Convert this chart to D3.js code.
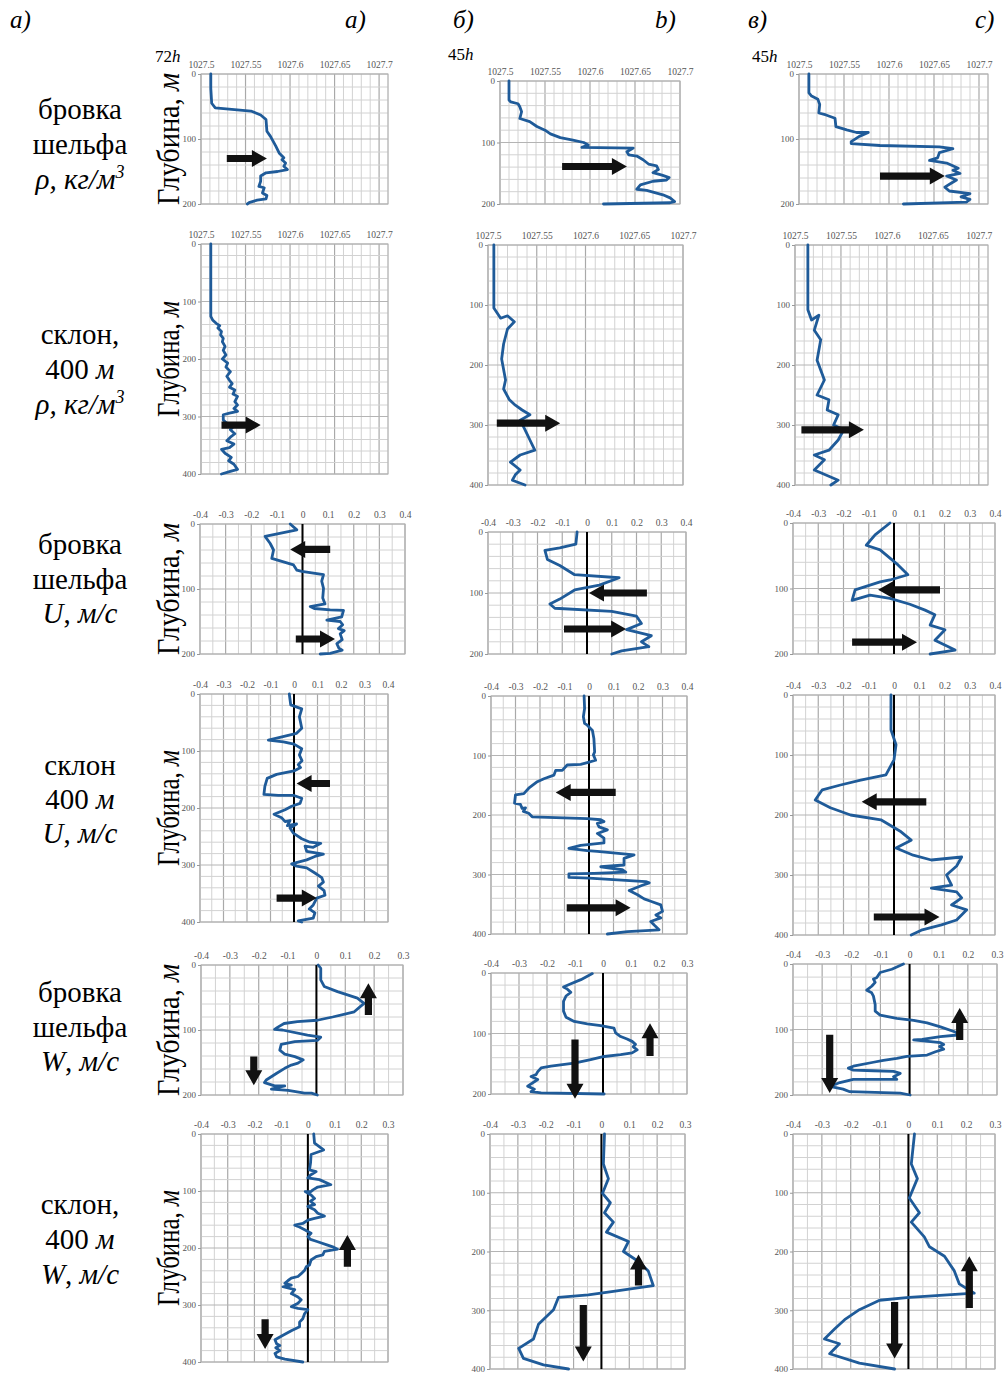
<!DOCTYPE html>
<html>
<head>
<meta charset="utf-8">
<script src="https://d3js.org/d3.v7.min.js"></script>
<style>
  body { margin: 0; background: #fff; }
  svg { display: block; }
</style>
</head>
<body>
<svg id="fig" width="1004" height="1376"></svg>
<script>
// ---------- tick values ----------
var rhoTicks = [1027.5, 1027.55, 1027.6, 1027.65, 1027.7];
var uTicks = [-0.4, -0.3, -0.2, -0.1, 0, 0.1, 0.2, 0.3, 0.4];
var wTicks = [-0.4, -0.3, -0.2, -0.1, 0, 0.1, 0.2, 0.3];
var depthTicksShelf = [0, 100, 200];
var depthTicksSlope = [0, 100, 200, 300, 400];

var colLetters = ["а)", "a)", "б)", "b)", "в)", "c)"];
var hourLabels = ["72", "45", "45"];

var rowLabels = [
    [[["бровка", 0]], [["шельфа", 0]], [["ρ, кг/м", 1], ["3", 2]]],
    [[["склон,", 0]], [["400 ", 0], ["м", 1]], [["ρ, кг/м", 1], ["3", 2]]],
    [[["бровка", 0]], [["шельфа", 0]], [["U", 1], [", ", 0], ["м/с", 1]]],
    [[["склон", 0]], [["400 ", 0], ["м", 1]], [["U", 1], [", ", 0], ["м/с", 1]]],
    [[["бровка", 0]], [["шельфа", 0]], [["W", 1], [", ", 0], ["м/с", 1]]],
    [[["склон,", 0]], [["400 ", 0], ["м", 1]], [["W", 1], [", ", 0], ["м/с", 1]]]
];

// ---------- profiles: [value, depth m] ----------
var rhoShelfA = [[1027.511,0],[1027.511,22],[1027.512,45],[1027.516,52],[1027.556,57],[1027.567,63],[1027.573,70],[1027.574,88],[1027.578,96],[1027.584,111],[1027.588,122],[1027.593,129],[1027.591,132],[1027.595,137],[1027.593,142],[1027.597,147],[1027.586,150],[1027.573,152],[1027.567,157],[1027.567,165],[1027.565,173],[1027.571,175],[1027.569,183],[1027.574,187],[1027.573,192],[1027.563,194],[1027.554,198],[1027.552,200]];
var rhoShelfB = [[1027.510,0],[1027.510,31],[1027.512,34],[1027.520,37],[1027.522,42],[1027.524,50],[1027.522,61],[1027.533,66],[1027.541,74],[1027.550,80],[1027.556,86],[1027.567,92],[1027.581,96],[1027.593,100],[1027.598,104],[1027.591,108],[1027.648,109],[1027.641,115],[1027.643,120],[1027.652,122],[1027.659,128],[1027.665,135],[1027.674,138],[1027.676,144],[1027.670,149],[1027.680,153],[1027.688,157],[1027.685,161],[1027.670,163],[1027.656,169],[1027.652,176],[1027.663,178],[1027.681,185],[1027.689,190],[1027.694,196],[1027.689,198],[1027.615,200]];
var rhoShelfC = [[1027.511,0],[1027.511,29],[1027.514,34],[1027.521,39],[1027.523,47],[1027.522,60],[1027.530,63],[1027.540,68],[1027.541,81],[1027.553,86],[1027.564,90],[1027.577,90],[1027.567,96],[1027.558,104],[1027.558,107],[1027.590,110],[1027.656,112],[1027.671,115],[1027.656,121],[1027.654,129],[1027.645,133],[1027.664,137],[1027.677,145],[1027.671,148],[1027.679,153],[1027.664,157],[1027.675,163],[1027.669,168],[1027.662,174],[1027.667,180],[1027.690,184],[1027.680,189],[1027.690,193],[1027.686,197],[1027.616,200]];
var rhoSlopeA = [[1027.511,0],[1027.511,126],[1027.513,132],[1027.517,138],[1027.521,142],[1027.519,146],[1027.523,152],[1027.522,158],[1027.525,164],[1027.524,170],[1027.527,178],[1027.525,185],[1027.528,193],[1027.524,200],[1027.530,207],[1027.528,214],[1027.533,222],[1027.529,230],[1027.532,237],[1027.535,243],[1027.532,249],[1027.538,254],[1027.536,261],[1027.541,265],[1027.538,274],[1027.541,280],[1027.537,286],[1027.541,291],[1027.532,294],[1027.525,297],[1027.525,306],[1027.530,313],[1027.537,316],[1027.533,323],[1027.538,330],[1027.533,336],[1027.529,342],[1027.537,348],[1027.532,354],[1027.523,357],[1027.527,364],[1027.534,371],[1027.531,377],[1027.537,383],[1027.541,392],[1027.532,396],[1027.523,400]];
var rhoSlopeB = [[1027.506,0],[1027.506,105],[1027.513,122],[1027.520,118],[1027.527,128],[1027.520,140],[1027.516,165],[1027.514,190],[1027.518,225],[1027.516,240],[1027.522,258],[1027.528,267],[1027.535,275],[1027.543,283],[1027.533,292],[1027.538,308],[1027.543,325],[1027.548,342],[1027.533,350],[1027.523,362],[1027.533,375],[1027.528,383],[1027.525,392],[1027.538,400]];
var rhoSlopeC = [[1027.514,0],[1027.514,108],[1027.518,125],[1027.526,117],[1027.521,142],[1027.528,158],[1027.524,192],[1027.532,225],[1027.524,250],[1027.537,258],[1027.535,275],[1027.547,283],[1027.542,300],[1027.553,308],[1027.547,325],[1027.537,342],[1027.521,350],[1027.532,358],[1027.521,375],[1027.547,392],[1027.539,400]];

var uShelfA = [[-0.048,0],[-0.022,9],[-0.146,19],[-0.126,30],[-0.113,40],[-0.120,53],[-0.035,63],[-0.022,71],[-0.003,73],[0.082,78],[0.075,88],[0.082,99],[0.079,114],[0.088,123],[0.030,127],[0.046,130],[0.108,132],[0.160,133],[0.153,143],[0.095,148],[0.147,150],[0.157,155],[0.140,161],[0.163,164],[0.147,169],[0.155,178],[0.134,184],[0.142,191],[0.155,194],[0.108,199],[0.069,200]];
var uShelfB = [[-0.04,0],[-0.045,20],[-0.11,26],[-0.17,30],[-0.16,45],[-0.11,55],[-0.05,70],[0.13,75],[0.05,87],[-0.05,95],[-0.11,110],[-0.15,118],[-0.13,125],[0.1,130],[0.2,138],[0.22,150],[0.16,160],[0.26,170],[0.22,180],[0.25,188],[0.14,195],[0.1,200]];
var uShelfC = [[-0.016,0],[-0.075,18],[-0.11,34],[-0.055,41],[0.016,64],[0.055,79],[-0.016,87],[-0.055,90],[-0.154,102],[-0.166,118],[-0.095,110],[-0.016,115],[0.063,124],[0.123,133],[0.162,140],[0.143,156],[0.202,163],[0.162,179],[0.242,194],[0.143,200]];
var uSlopeA = [[-0.020,0],[-0.014,19],[0.033,26],[0.023,40],[0.033,60],[0.011,69],[-0.109,81],[-0.045,84],[0,88],[0.033,96],[0.023,107],[0.034,117],[0.018,124],[0.028,129],[0,135],[-0.074,141],[-0.114,148],[-0.124,162],[-0.128,176],[-0.067,178],[0,178],[0.033,183],[0.026,192],[-0.010,197],[-0.038,203],[-0.085,211],[-0.053,217],[-0.038,224],[-0.017,222],[-0.028,231],[0.011,228],[-0.017,235],[-0.003,244],[0.033,254],[0.068,260],[0.114,262],[0.082,269],[0.047,267],[0.054,276],[0.125,281],[0.089,285],[0.054,291],[0.018,295],[-0.010,298],[0.011,302],[0.054,305],[0.089,314],[0.118,322],[0.125,330],[0.104,337],[0.128,345],[0.132,353],[0.097,358],[0.082,370],[0.065,377],[0.089,384],[0.082,393],[0.018,398],[0.033,400]];
var uSlopeB = [[-0.020,0],[-0.018,21],[-0.023,35],[-0.018,46],[-0.007,49],[0.014,58],[0.020,72],[0.023,94],[0.018,99],[0.027,108],[-0.007,112],[-0.034,115],[-0.089,116],[-0.109,125],[-0.136,125],[-0.143,133],[-0.184,139],[-0.211,144],[-0.246,155],[-0.266,164],[-0.300,166],[-0.304,180],[-0.280,182],[-0.273,189],[-0.259,188],[-0.268,194],[-0.246,197],[-0.232,203],[-0.007,206],[0.048,208],[0.061,211],[0.034,214],[0.041,220],[0.075,225],[0.034,231],[0.061,239],[0.061,247],[-0.034,251],[-0.082,256],[-0.007,260],[0.034,261],[0.184,267],[0.143,273],[0.143,284],[0.048,287],[0.136,292],[0.150,296],[0.020,298],[-0.082,299],[-0.082,305],[0,306],[0.232,312],[0.246,314],[0.218,318],[0.164,327],[0.198,334],[0.225,341],[0.252,345],[0.293,351],[0.300,362],[0.273,368],[0.293,373],[0.252,379],[0.266,385],[0.286,393],[0.157,396],[0.075,400]];
var uSlopeC = [[-0.012,0],[-0.012,58],[0.008,83],[0,108],[-0.032,133],[-0.132,142],[-0.212,150],[-0.284,158],[-0.312,175],[-0.252,188],[-0.172,200],[-0.052,208],[0.028,228],[0.068,242],[0.008,255],[0.076,267],[0.148,275],[0.268,270],[0.248,285],[0.208,300],[0.228,317],[0.148,322],[0.248,328],[0.268,338],[0.228,350],[0.288,358],[0.248,375],[0.188,383],[0.108,392],[0.068,400]];

var wShelfA = [[0.006,0],[0.015,5],[0.015,23],[0.027,33],[0.073,41],[0.142,51],[0.165,59],[0.131,72],[0.056,80],[0.003,85],[-0.066,87],[-0.112,90],[-0.135,96],[-0.145,99],[-0.118,100],[-0.031,108],[0.015,111],[0.003,116],[-0.075,118],[-0.122,122],[-0.127,131],[-0.110,137],[-0.075,141],[-0.046,146],[-0.064,151],[-0.087,154],[-0.110,159],[-0.139,167],[-0.174,177],[-0.180,181],[-0.145,186],[-0.110,186],[-0.156,191],[-0.098,193],[-0.041,197],[-0.017,197],[0.003,200]];
var wShelfB = [[-0.038,1],[-0.079,11],[-0.121,19],[-0.141,23],[-0.129,26],[-0.115,32],[-0.132,38],[-0.141,47],[-0.141,63],[-0.132,73],[-0.103,80],[-0.056,84],[-0.008,87],[0.039,91],[0.045,99],[0.063,105],[0.086,109],[0.104,113],[0.116,118],[0.108,122],[0.122,127],[0.104,132],[0.063,135],[0.004,138],[-0.044,143],[-0.103,149],[-0.186,154],[-0.221,157],[-0.233,163],[-0.239,168],[-0.257,171],[-0.233,176],[-0.269,187],[-0.245,192],[-0.257,196],[-0.221,198],[0.004,200]];
var wShelfC = [[-0.021,0],[-0.061,8],[-0.101,13],[-0.113,21],[-0.124,23],[-0.118,28],[-0.130,34],[-0.147,40],[-0.130,44],[-0.124,49],[-0.118,62],[-0.118,72],[-0.101,78],[-0.044,83],[0.014,86],[0.060,90],[0.106,96],[0.152,103],[0.175,108],[0.106,111],[0.043,115],[0.014,116],[0.106,120],[0.117,123],[0.103,126],[0.117,130],[0.089,134],[0.060,139],[-0.009,141],[-0.044,144],[-0.090,147],[-0.124,150],[-0.193,156],[-0.210,159],[-0.193,162],[-0.124,163],[-0.055,164],[-0.032,167],[-0.055,172],[-0.044,176],[-0.193,176],[-0.239,181],[-0.274,187],[-0.228,191],[-0.205,195],[-0.032,197],[0.002,200]];
var wSlopeA = [[0.022,0],[0.025,16],[0.059,28],[0.012,36],[0.010,51],[0.006,63],[0.031,66],[0.010,72],[0,77],[0.043,80],[0.086,89],[0.037,93],[0.019,98],[0.012,101],[-0.010,101],[0.012,107],[0.025,113],[0.010,118],[0.025,124],[0,127],[0.025,133],[0.037,139],[0.062,144],[0.025,148],[0,151],[-0.019,157],[-0.049,160],[-0.037,162],[-0.012,168],[0.012,174],[0,180],[0.010,185],[0.037,189],[0.074,195],[0.093,198],[0.111,202],[0.062,206],[0.056,212],[0.031,215],[0.012,221],[0.006,230],[-0.006,233],[-0.012,239],[-0.025,245],[-0.037,250],[-0.062,253],[-0.074,257],[-0.086,262],[-0.062,265],[-0.093,268],[-0.049,273],[-0.062,280],[-0.037,286],[-0.025,291],[-0.037,297],[-0.062,303],[-0.037,306],[0,308],[-0.012,315],[-0.019,324],[-0.031,330],[-0.031,338],[-0.062,345],[-0.093,353],[-0.123,361],[-0.117,368],[-0.105,371],[-0.120,375],[-0.105,380],[-0.123,385],[-0.117,391],[-0.086,395],[-0.019,400]];
var wSlopeB = [[0.011,0],[0.007,51],[0.025,76],[0.004,101],[0.032,117],[0.011,134],[0.043,150],[0.018,167],[0.097,183],[0.079,200],[0.133,217],[0.168,233],[0.186,258],[0.043,268],[-0.047,274],[-0.154,278],[-0.172,299],[-0.226,324],[-0.244,349],[-0.297,365],[-0.28,382],[-0.208,393],[-0.118,400]];
var wSlopeC = [[0.021,0],[0.010,51],[0.031,76],[0.003,109],[0.038,134],[0.010,150],[0.055,175],[0.073,192],[0.125,208],[0.159,233],[0.176,255],[0.228,271],[0.003,278],[-0.1,283],[-0.17,299],[-0.221,316],[-0.256,332],[-0.291,349],[-0.239,357],[-0.273,374],[-0.17,390],[-0.048,400]];

// ---------- arrows: [tail value, tail depth, head value, head depth] ----------
var arrowsRhoShelfA = [[1027.529,130,1027.574,130]];
var arrowsRhoShelfB = [[1027.569,139,1027.641,139]];
var arrowsRhoShelfC = [[1027.590,157,1027.662,157]];
var arrowsRhoSlopeA = [[1027.523,315,1027.567,315]];
var arrowsRhoSlopeB = [[1027.509,297,1027.574,297]];
var arrowsRhoSlopeC = [[1027.507,308,1027.575,308]];
var arrowsUShelfA = [[0.108,39,-0.048,39],[-0.026,177,0.127,177]];
var arrowsUShelfB = [[0.242,100,0.008,100],[-0.093,159,0.158,159]];
var arrowsUShelfC = [[0.182,102,-0.063,102],[-0.166,182,0.091,182]];
var arrowsUSlopeA = [[0.153,157,0.011,157],[-0.074,358,0.097,358]];
var arrowsUSlopeB = [[0.109,162,-0.136,162],[-0.091,356,0.170,356]];
var arrowsUSlopeC = [[0.128,178,-0.128,178],[-0.08,370,0.18,370]];
var arrowsWShelfA = [[0.18,77,0.18,28],[-0.217,141,-0.217,185]];
var arrowsWShelfB = [[-0.10,110,-0.10,208],[0.168,137,0.168,83]];
var arrowsWShelfC = [[-0.274,108,-0.274,197],[0.172,116,0.172,67]];
var arrowsWSlopeA = [[0.148,233,0.148,177],[-0.16,325,-0.16,377]];
var arrowsWSlopeB = [[-0.065,291,-0.065,387],[0.133,258,0.133,205]];
var arrowsWSlopeC = [[-0.048,286,-0.048,382],[0.211,296,0.211,208]];

// ---------- layout (pixel boxes: left, right, top, bottom) ----------
var panels = [
    {row:0, col:0, box:[201,388,74,204],  kind:"rho", domain:[1027.5,1027.71], depth:200, data:rhoShelfA, arrows:arrowsRhoShelfA},
    {row:0, col:1, box:[500,680,81,204],  kind:"rho", domain:[1027.5,1027.7],  depth:200, data:rhoShelfB, arrows:arrowsRhoShelfB},
    {row:0, col:2, box:[799,988,74,204],  kind:"rho", domain:[1027.5,1027.71], depth:200, data:rhoShelfC, arrows:arrowsRhoShelfC},
    {row:1, col:0, box:[201,388,244,474], kind:"rho", domain:[1027.5,1027.71], depth:400, data:rhoSlopeA, arrows:arrowsRhoSlopeA},
    {row:1, col:1, box:[488,683,245,485], kind:"rho", domain:[1027.5,1027.7],  depth:400, data:rhoSlopeB, arrows:arrowsRhoSlopeB},
    {row:1, col:2, box:[795,988,245,485], kind:"rho", domain:[1027.5,1027.71], depth:400, data:rhoSlopeC, arrows:arrowsRhoSlopeC},
    {row:2, col:0, box:[200,405,524,654], kind:"u", domain:[-0.4,0.4], depth:200, data:uShelfA, arrows:arrowsUShelfA},
    {row:2, col:1, box:[488,686,532,654], kind:"u", domain:[-0.4,0.4], depth:200, data:uShelfB, arrows:arrowsUShelfB},
    {row:2, col:2, box:[793,995,523,654], kind:"u", domain:[-0.4,0.4], depth:200, data:uShelfC, arrows:arrowsUShelfC},
    {row:3, col:0, box:[200,388,694,922], kind:"u", domain:[-0.4,0.4], depth:400, data:uSlopeA, arrows:arrowsUSlopeA},
    {row:3, col:1, box:[491,687,696,934], kind:"u", domain:[-0.4,0.4], depth:400, data:uSlopeB, arrows:arrowsUSlopeB},
    {row:3, col:2, box:[793,995,695,935], kind:"u", domain:[-0.4,0.4], depth:400, data:uSlopeC, arrows:arrowsUSlopeC},
    {row:4, col:0, box:[201,403,965,1095], kind:"w", domain:[-0.4,0.3], depth:200, data:wShelfA, arrows:arrowsWShelfA},
    {row:4, col:1, box:[491,687,973,1094], kind:"w", domain:[-0.4,0.3], depth:200, data:wShelfB, arrows:arrowsWShelfB},
    {row:4, col:2, box:[793,997,964,1095], kind:"w", domain:[-0.4,0.3], depth:200, data:wShelfC, arrows:arrowsWShelfC},
    {row:5, col:0, box:[201,388,1134,1362], kind:"w", domain:[-0.4,0.3], depth:400, data:wSlopeA, arrows:arrowsWSlopeA},
    {row:5, col:1, box:[490,685,1134,1369], kind:"w", domain:[-0.4,0.3], depth:400, data:wSlopeB, arrows:arrowsWSlopeB},
    {row:5, col:2, box:[793,995,1134,1369], kind:"w", domain:[-0.4,0.3], depth:400, data:wSlopeC, arrows:arrowsWSlopeC}
];

var letterX = [10, 345, 453, 655, 748, 975];
var hourPos = [[155, 62], [448, 60], [752, 62]];
var rowLabelY = [[110, 145, 180], [335, 370, 405], [545, 580, 614], [766, 800, 834], [993, 1028, 1062], [1205, 1240, 1275]];

var serif = "'Liberation Serif', 'DejaVu Serif', serif";
var lineColor = "#1f5b99";

var svg = d3.select("#fig");
svg.append("rect").attr("width", 1004).attr("height", 1376).attr("fill", "#fff");

// column letters
svg.selectAll("text.letter")
    .data(colLetters)
    .enter().append("text")
    .attr("class", "letter")
    .attr("x", function (d, i) { return letterX[i]; })
    .attr("y", 28)
    .attr("font-family", serif)
    .attr("font-style", "italic")
    .attr("font-size", 25)
    .text(function (d) { return d; });

// 72h / 45h
hourLabels.forEach(function (h, i) {
    var t = svg.append("text")
        .attr("x", hourPos[i][0]).attr("y", hourPos[i][1])
        .attr("font-family", serif).attr("font-size", 17);
    t.append("tspan").text(h);
    t.append("tspan").attr("font-style", "italic").text("h");
});

// row labels on the left
rowLabels.forEach(function (lines, r) {
    lines.forEach(function (segs, k) {
        var t = svg.append("text")
            .attr("x", 80).attr("y", rowLabelY[r][k] + 9)
            .attr("text-anchor", "middle")
            .attr("font-family", serif).attr("font-size", 29);
        segs.forEach(function (s) {
            var sp = t.append("tspan").text(s[0]);
            if (s[1] >= 1) sp.attr("font-style", "italic");
            if (s[1] === 2) sp.attr("font-size", 18).attr("dy", -11);
        });
    });
});

function drawArrow(g, ax, ay, bx, by) {
    var dx = bx - ax, dy = by - ay;
    var len = Math.sqrt(dx * dx + dy * dy);
    var ux = dx / len, uy = dy / len, nx = -uy, ny = ux;
    var sw = 3.6, hw = 8.5, hl = 15;
    var cx = bx - ux * hl, cy = by - uy * hl;
    var pts = [
        [ax + nx * sw, ay + ny * sw], [cx + nx * sw, cy + ny * sw], [cx + nx * hw, cy + ny * hw],
        [bx, by],
        [cx - nx * hw, cy - ny * hw], [cx - nx * sw, cy - ny * sw], [ax - nx * sw, ay - ny * sw]
    ];
    g.append("polygon")
        .attr("points", pts.map(function (p) { return p[0].toFixed(1) + "," + p[1].toFixed(1); }).join(" "))
        .attr("fill", "#111");
}

function drawPanel(p) {
    var x0 = p.box[0], x1 = p.box[1], y0 = p.box[2], y1 = p.box[3];
    var x = d3.scaleLinear().domain(p.domain).range([x0, x1]);
    var y = d3.scaleLinear().domain([0, p.depth]).range([y0, y1]);
    var g = svg.append("g");

    // vertical grid
    var step = p.kind === "rho" ? 0.01 : 0.05;
    var n = Math.round((p.domain[1] - p.domain[0]) / step);
    var vlines = d3.range(n + 1).map(function (i) { return p.domain[0] + i * step; });
    g.selectAll("line.v").data(vlines).enter().append("line")
        .attr("x1", function (d) { return x(d); }).attr("x2", function (d) { return x(d); })
        .attr("y1", y0).attr("y2", y1)
        .attr("stroke", function (d, i) { return (p.kind === "rho" ? i % 5 === 0 : i % 2 === 0) ? "#a9a9a9" : "#d2d2d2"; })
        .attr("stroke-width", function (d, i) { return (p.kind === "rho" ? i % 5 === 0 : i % 2 === 0) ? 1.2 : 1; });

    // horizontal grid every 20 m
    var hlines = d3.range(0, p.depth + 1, 20);
    g.selectAll("line.h").data(hlines).enter().append("line")
        .attr("x1", x0).attr("x2", x1)
        .attr("y1", function (d) { return y(d); }).attr("y2", function (d) { return y(d); })
        .attr("stroke", function (d) { return d % 100 === 0 ? "#b4b4b4" : "#d2d2d2"; })
        .attr("stroke-width", 1);

    g.append("rect").attr("x", x0).attr("y", y0).attr("width", x1 - x0).attr("height", y1 - y0)
        .attr("fill", "none").attr("stroke", "#b0b0b0").attr("stroke-width", 1);

    // axes
    var xt = p.kind === "rho" ? rhoTicks : (p.kind === "u" ? uTicks : wTicks);
    var xa = g.append("g").attr("transform", "translate(0," + y0 + ")")
        .call(d3.axisTop(x).tickValues(xt).tickSize(0).tickPadding(6).tickFormat(function (d) { return String(d); }));
    xa.select(".domain").remove();
    xa.selectAll("text").attr("font-family", serif).attr("font-size", 9.5).attr("fill", "#555");

    var yt = p.depth === 200 ? depthTicksShelf : depthTicksSlope;
    var ya = g.append("g").attr("transform", "translate(" + x0 + ",0)")
        .call(d3.axisLeft(y).tickValues(yt).tickSize(3).tickPadding(2));
    ya.select(".domain").remove();
    ya.selectAll("line").attr("stroke", "#999");
    ya.selectAll("text").attr("font-family", serif).attr("font-size", 9).attr("fill", "#555");

    // zero line for velocities
    if (p.kind !== "rho") {
        g.append("line").attr("x1", x(0)).attr("x2", x(0)).attr("y1", y0).attr("y2", y1)
            .attr("stroke", "#000").attr("stroke-width", 2);
    }

    // profile
    var line = d3.line().x(function (d) { return x(d[0]); }).y(function (d) { return y(d[1]); });
    g.append("path").datum(p.data).attr("d", line)
        .attr("fill", "none").attr("stroke", lineColor).attr("stroke-width", 2.8)
        .attr("stroke-linejoin", "round").attr("stroke-linecap", "round");

    p.arrows.forEach(function (a) {
        drawArrow(g, x(a[0]), y(a[1]), x(a[2]), y(a[3]));
    });

    // depth title only on the first column
    if (p.col === 0) {
        var cy = (y0 + y1) / 2;
        var t = g.append("text")
            .attr("transform", "translate(179," + cy + ") rotate(-90)")
            .attr("text-anchor", "middle")
            .attr("font-family", serif).attr("font-size", 32)
            .attr("textLength", p.depth === 200 ? 132 : 116)
            .attr("lengthAdjust", "spacingAndGlyphs");
        t.append("tspan").text("Глубина, ");
        t.append("tspan").attr("font-style", "italic").text("м");
    }
}

panels.forEach(drawPanel);
</script>
</body>
</html>
